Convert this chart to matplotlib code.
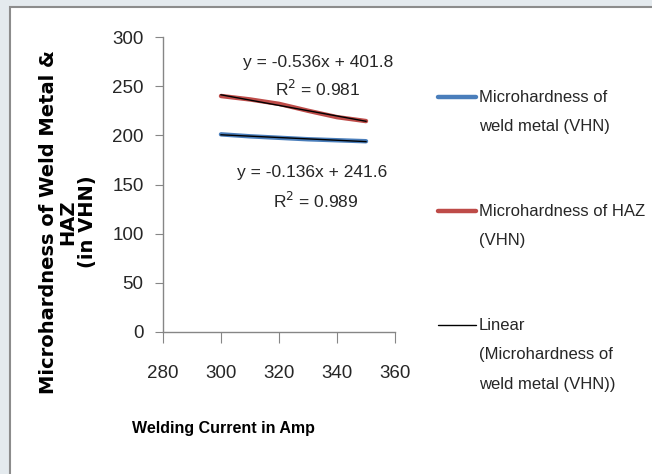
"""Microhardness of weld metal and HAZ vs welding current, with linear trend lines."""

import numpy as np
import matplotlib

matplotlib.use("Agg")
import matplotlib.pyplot as plt
from matplotlib.lines import Line2D
from matplotlib.patches import Rectangle

# ── data ─────────────────────────────────────────────────────────────────────
current = [300, 310, 320, 330, 340, 350]
weld_metal = [201.0, 199.0, 197.5, 196.0, 195.0, 194.0]
haz = [240.0, 236.5, 232.0, 225.0, 218.5, 214.5]

x_ticks = [280, 300, 320, 340, 360]
y_ticks = [0, 50, 100, 150, 200, 250, 300]

eq_weld = "y = -0.136x + 241.6"
r2_weld = "R$^2$ = 0.989"
eq_haz = "y = -0.536x + 401.8"
r2_haz = "R$^2$ = 0.981"

legend_labels = [
    ["Microhardness of", "weld metal (VHN)"],
    ["Microhardness of HAZ", "(VHN)"],
    ["Linear", "(Microhardness of", "weld metal (VHN))"],
]

NARROW = ["Liberation Sans", "DejaVu Sans"]
BLUE = "#4a7ebb"
RED = "#be4b48"
AXIS_GREY = "#868686"
TXT = "#262626"

W, H = 652, 474
fig = plt.figure(figsize=(W / 100, H / 100), dpi=100)
fig.patch.set_facecolor("#e4eaee")
# white chart area with grey frame (behind the axes)
fig.add_artist(Rectangle((10 / W, -0.01), 1, 1.01 - 7 / H, transform=fig.transFigure,
                         facecolor="white", edgecolor="#8c8c8c", linewidth=1.5,
                         zorder=-5))

ax = fig.add_axes([163 / W, 1 - 332 / H, (395 - 163) / W, (332 - 37) / H])
ax.set_facecolor("none")

ax.plot(current, weld_metal, color=BLUE, lw=3.2, solid_capstyle="round")
ax.plot(current, haz, color=RED, lw=3.2, solid_capstyle="round")

# linear trend lines
xs = np.array(current, dtype=float)
for ys in (weld_metal, haz):
    k, b = np.polyfit(xs, ys, 1)
    ax.plot(xs, k * xs + b, color="black", lw=1.0)

ax.set_xlim(280, 360)
ax.set_ylim(0, 300)
ax.set_xticks(x_ticks)
ax.set_yticks(y_ticks)
for side in ("top", "right"):
    ax.spines[side].set_visible(False)
for side in ("left", "bottom"):
    ax.spines[side].set_color(AXIS_GREY)
    ax.spines[side].set_linewidth(1.0)
ax.tick_params(axis="x", direction="out", length=8, color=AXIS_GREY, pad=16)
ax.tick_params(axis="y", direction="out", length=6, color=AXIS_GREY, pad=8)
for lab in ax.get_xticklabels() + ax.get_yticklabels():
    lab.set_family(NARROW)
    lab.set_fontsize(13.5)
    lab.set_color(TXT)

# axis titles
fig.text(68 / W, 1 - 222 / H, "Microhardness of Weld Metal &\nHAZ\n(in VHN)",
         rotation=90, ha="center", va="center", fontsize=14, fontweight="bold",
         family=["DejaVu Sans"], linespacing=1.0, multialignment="center")
fig.text(223 / W, 1 - 428 / H, "Welding Current in Amp", ha="center", va="center",
         fontsize=11.5, fontweight="bold", family=NARROW)

# trend line equations
eq_kw = dict(ha="center", va="center", fontsize=12.5, family=NARROW, color=TXT)
fig.text(318 / W, 1 - 62 / H, eq_haz, **eq_kw)
fig.text(318 / W, 1 - 89 / H, r2_haz, **eq_kw)
fig.text(312 / W, 1 - 173 / H, eq_weld, **eq_kw)
fig.text(316 / W, 1 - 201 / H, r2_weld, **eq_kw)

# legend drawn by hand so the handle sits on the first text line
handles = [(BLUE, 3.2, 97), (RED, 3.2, 211), ("black", 1.0, 325)]
for (color, lw, y), lines in zip(handles, legend_labels):
    fig.add_artist(Line2D([438 / W, 476 / W], [1 - y / H, 1 - y / H],
                          transform=fig.transFigure, color=color, lw=lw,
                          solid_capstyle="round"))
    for i, line in enumerate(lines):
        fig.text(479 / W, 1 - (y + 30 * i) / H, line, ha="left", va="center",
                 fontsize=12, family=NARROW, color=TXT)

fig.savefig("out.png", dpi=100)
